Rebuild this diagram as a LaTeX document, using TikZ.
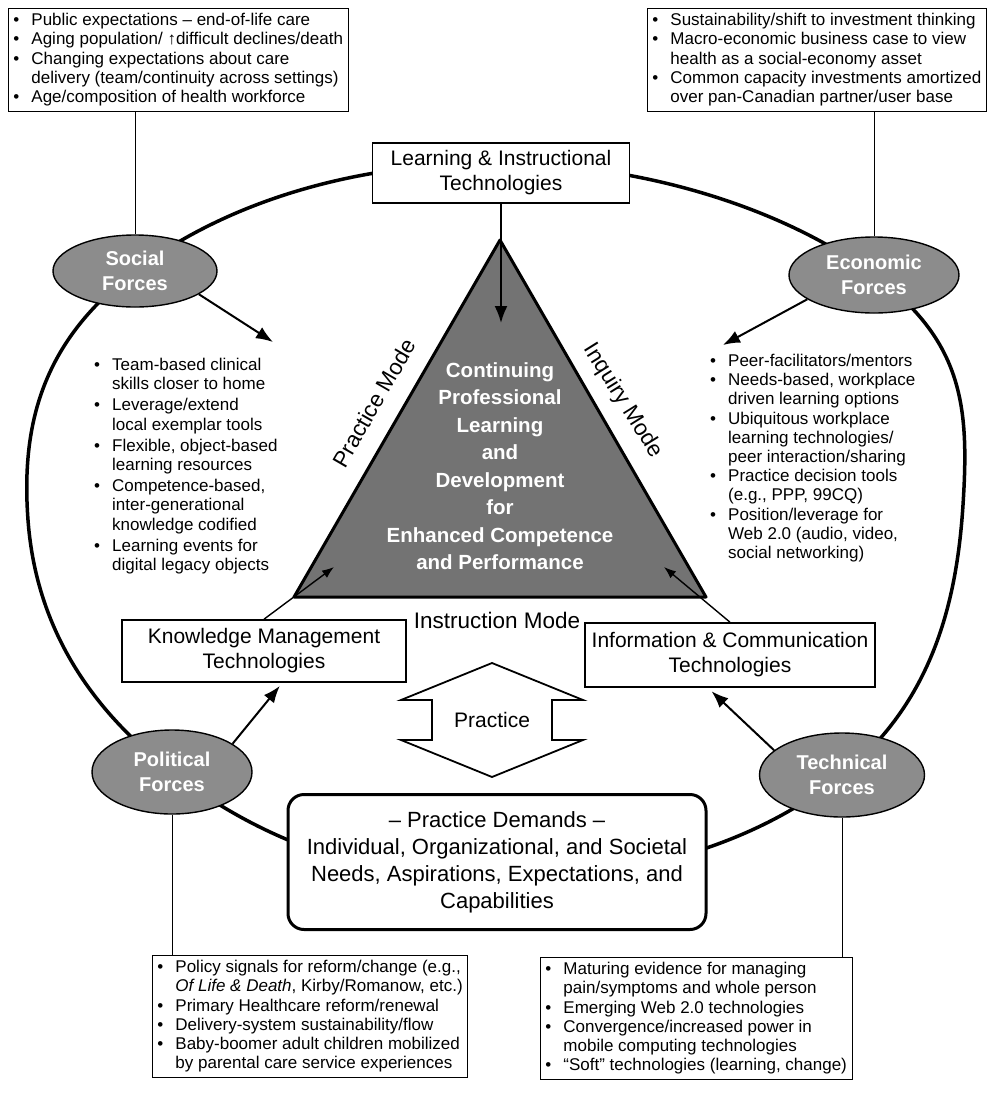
\documentclass[tikz,border=0pt]{standalone}
\usepackage{fontspec}
\setmainfont{Liberation Sans}
\usetikzlibrary{arrows.meta,positioning,calc,shapes.geometric}

\newcommand{\bitem}{\makebox[18pt][l]{\textbullet}}
\newcommand{\bmore}{\hspace*{18pt}}

\begin{document}
\begin{tikzpicture}[
  x=1pt, y=-1pt,
  notes/.style={draw, line width=0.9pt, align=left, anchor=north west,
                inner xsep=5pt, inner ysep=5pt,
                font=\fontsize{17}{19.2}\selectfont},
  bullets/.style={align=left, anchor=north west, inner sep=0pt,
                  font=\fontsize{17}{19.2}\selectfont},
  techbox/.style={draw, line width=1.6pt, fill=white, align=center,
                  font=\fontsize{21}{25}\selectfont},
  force/.style={ellipse, draw, line width=1.4pt, fill=black!45,
                text=white, align=center, inner sep=0pt,
                font=\bfseries\fontsize{20}{25}\selectfont},
  modelabel/.style={font=\fontsize{22.5}{25}\selectfont},
  pull/.style={-{Latex[length=17pt,width=13pt]}, line width=2pt},
  nudge/.style={-{Latex[length=12pt,width=9pt]}, line width=1.4pt},
  stub/.style={line width=0.8pt},
  hoop/.style={line width=3.5pt},
]
\useasboundingbox (0,0) rectangle (990,1096);

% the ring through the four forces
\coordinate (r1) at (500,163);
\coordinate (r2) at (874,275);
\coordinate (r3) at (963,505);
\coordinate (r4) at (842,775);
\coordinate (r5) at (497,880);
\coordinate (r6) at (172,772);
\coordinate (r7) at (28,520);
\coordinate (r8) at (135,271);
\draw[hoop] plot[smooth cycle, tension=0.7] coordinates
  {(r1) (r2) (r3) (r4) (r5) (r6) (r7) (r8)};

% central triangle
\coordinate (apex)  at (500,240);
\coordinate (baseL) at (294,597);
\coordinate (baseR) at (706,597);
\draw[line width=3pt, line join=round, fill=black!55]
  (apex) -- (baseL) -- (baseR) -- cycle;
\node[align=center, text=white, font=\bfseries\fontsize{20.5}{27.5}\selectfont]
  (cpl) at (500,466) {Continuing\\Professional\\Learning\\and\\Development\\for\\
  Enhanced Competence\\and Performance};
\node[modelabel, rotate=60]  (pmode) at (374,403) {Practice Mode};
\node[modelabel, rotate=-58] (qmode) at (623,401) {Inquiry Mode};
\node[modelabel] (imode) at (497,620) {Instruction Mode};

% technology boxes
\node[techbox, minimum width=257pt, minimum height=60pt] (lit) at (501,173)
  {Learning \& Instructional\\Technologies};
\node[techbox, minimum width=284pt, minimum height=62pt] (kmt) at (264,651)
  {Knowledge Management\\Technologies};
\node[techbox, minimum width=290pt, minimum height=64pt] (ict) at (730,655)
  {Information \& Communication\\Technologies};

% practice
\node[font=\fontsize{21}{25}\selectfont] (prac) at (492,720) {Practice};
\draw[line width=1.8pt, shift={(prac)}]
  (0,-57) -- (91,-20) -- (60,-20) -- (60,20) -- (91,20) -- (0,57)
  -- (-91,20) -- (-60,20) -- (-60,-20) -- (-91,-20) -- cycle;
\node[draw, line width=3pt, rounded corners=16pt, fill=white, align=center,
  minimum width=418pt, minimum height=135pt,
  font=\fontsize{22}{27}\selectfont] (dem) at (497,862)
  {-- Practice Demands --\\Individual, Organizational, and Societal\\
  Needs, Aspirations, Expectations, and\\Capabilities};

% forces
\node[force, minimum width=164pt, minimum height=72pt] (social) at (r8) {Social\\Forces};
\node[force, minimum width=170pt, minimum height=76pt] (econ) at (r2) {Economic\\Forces};
\node[force, minimum width=160pt, minimum height=84pt] (polit) at (r6) {Political\\Forces};
\node[force, minimum width=165pt, minimum height=84pt] (techn) at (r4) {Technical\\Forces};

% note boxes
\node[notes] (socnotes) at (8,8) {%
  \bitem Public expectations -- end-of-life care\\
  \bitem Aging population/ ↑difficult declines/death\\
  \bitem Changing expectations about care\\
  \bmore delivery (team/continuity across settings)\\
  \bitem Age/composition of health workforce};
\node[notes] (econotes) at (647,8) {%
  \bitem Sustainability/shift to investment thinking\\
  \bitem Macro-economic business case to view\\
  \bmore health as a social-economy asset\\
  \bitem Common capacity investments amortized\\
  \bmore over pan-Canadian partner/user base};
\node[notes] (polnotes) at (152,955) {%
  \bitem Policy signals for reform/change (e.g.,\\
  \bmore \textit{Of Life \& Death}, Kirby/Romanow, etc.)\\
  \bitem Primary Healthcare reform/renewal\\
  \bitem Delivery-system sustainability/flow\\
  \bitem Baby-boomer adult children mobilized\\
  \bmore by parental care service experiences};
\node[notes] (technotes) at (540,957) {%
  \bitem Maturing evidence for managing\\
  \bmore pain/symptoms and whole person\\
  \bitem Emerging Web 2.0 technologies\\
  \bitem Convergence/increased power in\\
  \bmore mobile computing technologies\\
  \bitem ``Soft'' technologies (learning, change)};

% bullet lists inside the ring
\node[bullets] (leftlist) at (94,358) {%
  \bitem Team-based clinical\\ \bmore skills closer to home\\[2pt]
  \bitem Leverage/extend\\ \bmore local exemplar tools\\[2pt]
  \bitem Flexible, object-based\\ \bmore learning resources\\[2pt]
  \bitem Competence-based,\\ \bmore inter-generational\\
  \bmore knowledge codified\\[2pt]
  \bitem Learning events for\\ \bmore digital legacy objects};
\node[bullets] (rightlist) at (710,354) {%
  \bitem Peer-facilitators/mentors\\
  \bitem Needs-based, workplace\\ \bmore driven learning options\\
  \bitem Ubiquitous workplace\\ \bmore learning technologies/\\
  \bmore peer interaction/sharing\\
  \bitem Practice decision tools\\ \bmore (e.g., PPP, 99CQ)\\
  \bitem Position/leverage for\\ \bmore Web 2.0 (audio, video,\\
  \bmore social networking)};

% stubs from forces to their notes
\draw[stub] (social.north) -- (social.north |- socnotes.south);
\draw[stub] (econ.north) -- (econ.north |- econotes.south);
\draw[stub] (polit.south) -- (polit.south |- polnotes.north);
\draw[stub] (techn.south) -- (techn.south |- technotes.north);

% arrows
\coordinate (socin) at (273,342);
\coordinate (ecoin) at (723,345);
\coordinate (litin) at (501,323);
\coordinate (tipL) at (334,567);
\coordinate (tipR) at (664,567);
\draw[pull] (social.-20) -- (socin);
\draw[pull] (econ.-160) -- (ecoin);
\draw[pull] (lit.south) -- (litin);
\draw[pull, shorten >=4pt] (polit.25) -- (kmt.-60);
\draw[pull, shorten >=5pt] (techn.160) -- (ict.-124);
\draw[nudge] (kmt.north) -- (tipL);
\draw[nudge] (ict.north) -- (tipR);
\end{tikzpicture}
\end{document}
